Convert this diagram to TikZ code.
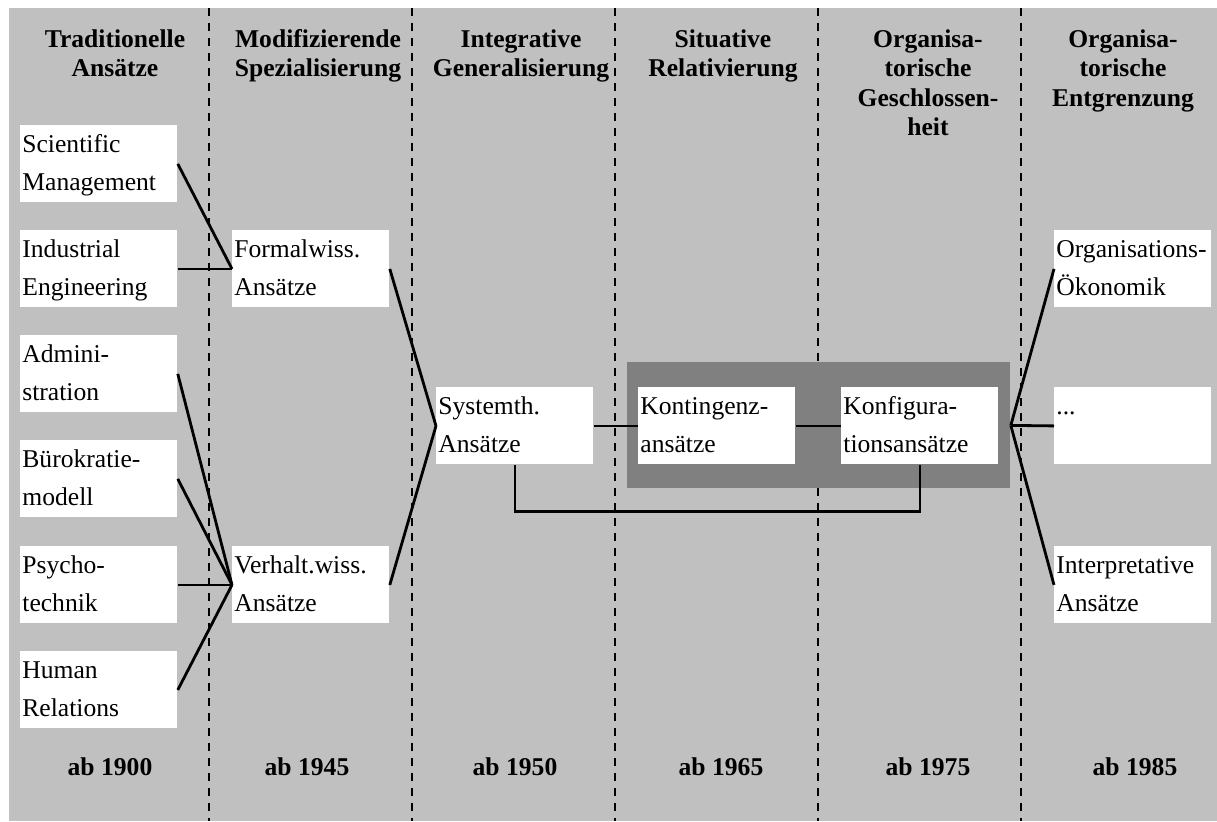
\documentclass[tikz,border=0pt]{standalone}
\usepackage{fontspec}
\setmainfont{Liberation Serif}
\usepackage{tikz}
\definecolor{hellgrau}{HTML}{C0C0C0}
\definecolor{dunkelgrau}{HTML}{808080}

\begin{document}
\begin{tikzpicture}[x=0.5pt, y=-0.5pt,
		kasten/.style={fill=white, anchor=north west, text width=76.5pt, inner xsep=1pt, inner ysep=0pt,
			minimum width=78.5pt, minimum height=38.5pt, text height=10.5pt, text depth=22pt,
			align=left, font=\fontsize{12.8}{19}\selectfont},
		block/.style={fill=dunkelgrau, anchor=north west, inner sep=0pt, minimum width=191.5pt, minimum height=63pt},
		kopf/.style={anchor=base, align=center, text width=100pt, inner sep=0pt, font=\bfseries\fontsize{12.8}{14.75}\selectfont},
		jahr/.style={anchor=base, inner sep=0pt, font=\bfseries\fontsize{12.8}{15}\selectfont},
		trenner/.style={line width=1.3pt, dash pattern=on 4pt off 3.5pt},
		linie/.style={line width=1.4pt}]
			\useasboundingbox (0,0) rectangle (1217,821);

			% Hintergrund und Trennlinien
			\fill[hellgrau] (9,8) rectangle (1217,821);
			\foreach \x in {209, 412, 615, 818, 1021}
				\draw[trenner] (\x,8) -- (\x,821);

			% Kopfzeile
			\node[kopf] (h1) at (115,47) {Traditionelle\\Ansätze};
			\node[kopf] (h2) at (318,47) {Modifizierende\\Spezialisierung};
			\node[kopf] (h3) at (521,47) {Integrative\\Generalisierung};
			\node[kopf] (h4) at (723,47) {Situative\\Relativierung};
			\node[kopf] (h5) at (928,47) {Organisa-\\torische\\Geschlossen-\\heit};
			\node[kopf] (h6) at (1123,47) {Organisa-\\torische\\Entgrenzung};

			% dunkler Block hinter Kontingenz- und Konfigurationsansätzen
			\node[block] (clu) at (627,362) {};

			% Traditionelle Ansätze
			\node[kasten] (sci) at (20,125) {Scientific\\Management};
			\node[kasten] (ind) at (20,230) {Industrial\\Engineering};
			\node[kasten] (adm) at (20,335) {Admini-\\stration};
			\node[kasten] (bur) at (20,440) {Bürokratie-\\modell};
			\node[kasten] (psy) at (20,546) {Psycho-\\technik};
			\node[kasten] (hum) at (20,651) {Human\\Relations};

			% spätere Ansätze
			\node[kasten] (form) at (232,230) {Formalwiss.\\Ansätze};
			\node[kasten] (verh) at (232,546) {Verhalt.wiss.\\Ansätze};
			\node[kasten] (sys) at (436,387) {Systemth.\\Ansätze};
			\node[kasten] (kon) at (638,387) {Kontingenz-\\ansätze};
			\node[kasten] (konf) at (841,387) {Konfigura-\\tionsansätze};
			\node[kasten] (oek) at (1054,230) {Organisations-\\Ökonomik};
			\node[kasten] (dots) at (1054,387) {...};
			\node[kasten] (intp) at (1054,546) {Interpretative\\Ansätze};

			% Verbindungen
			\draw[linie] (sci.east) -- (form.west);
			\draw[linie] (ind.east) -- (form.west);
			\foreach \q in {adm, bur, psy, hum}
				\draw[linie] (\q.east) -- (verh.west);
			\draw[linie] (form.east) -- (sys.west);
			\draw[linie] (verh.east) -- (sys.west);
			\draw[linie] (sys.east) -- (kon.west);
			\draw[linie] (kon.east) -- (konf.west);
			\draw[linie] (sys.south) -- ++(0,47) -| (konf.south);
			\foreach \z in {oek, dots, intp}
				\draw[linie] (clu.east) -- (\z.west);

			% Jahreszahlen
			\node[jahr] (y1) at (110,775) {ab 1900};
			\node[jahr] (y2) at (307,775) {ab 1945};
			\node[jahr] (y3) at (515,775) {ab 1950};
			\node[jahr] (y4) at (721,775) {ab 1965};
			\node[jahr] (y5) at (928,775) {ab 1975};
			\node[jahr] (y6) at (1135,775) {ab 1985};
		\end{tikzpicture}
\end{document}
